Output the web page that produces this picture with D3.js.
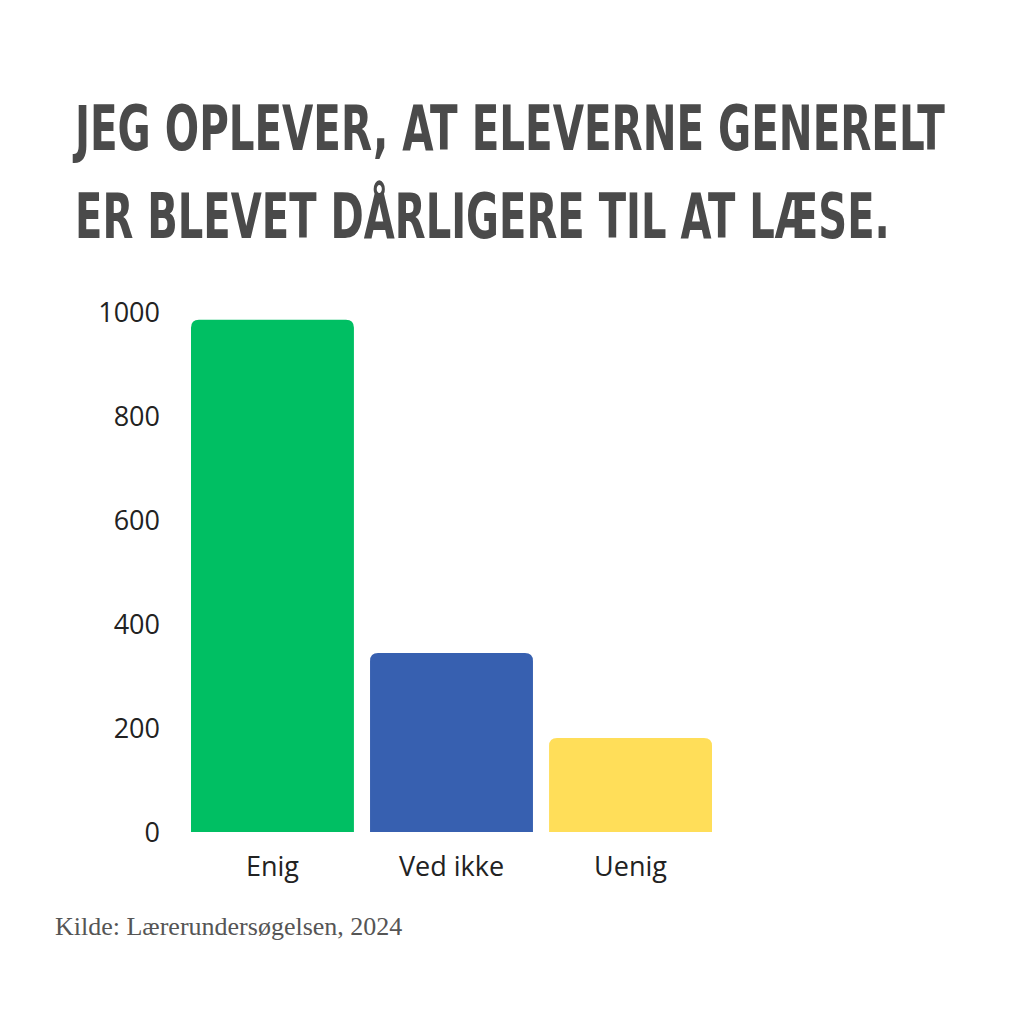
<!DOCTYPE html>
<html><head><meta charset="utf-8">
<script src="https://cdn.jsdelivr.net/npm/d3@7"></script>
<style>body{margin:0;background:#fff}</style></head>
<body><svg id="c" width="1024" height="1024"></svg>
<script>
const categories = ["Enig", "Ved ikke", "Uenig"];
const values = [985, 344, 181];
const colors = ["#00bf63", "#3760b0", "#ffde59"];
const ticks = [0, 200, 400, 600, 800, 1000];
const titleLines = ["JEG OPLEVER, AT ELEVERNE GENERELT", "ER BLEVET DÅRLIGERE TIL AT LÆSE."];
const source = "Kilde: Lærerundersøgelsen, 2024";

const svg = d3.select("#c");
svg.append("rect").attr("width",1024).attr("height",1024).attr("fill","#fff");
const tl = [[75,150,870],[75,238,815]];
titleLines.forEach((t,i)=>{
  const el = svg.append("text").attr("x",tl[i][0]).attr("y",tl[i][1])
    .attr("font-family","Liberation Sans Narrow, DejaVu Sans Condensed, sans-serif").attr("font-weight","bold")
    .attr("font-style","normal").attr("font-size",62).attr("fill","#4a4a4a").text(t);
  const w = el.node().getComputedTextLength();
  el.attr("transform",`translate(${tl[i][0]},0) scale(${tl[i][2]/w},1) translate(${-tl[i][0]},0)`);
});
const y = d3.scaleLinear().domain([0,1000]).range([832,312]);
const x = d3.scaleBand().domain(categories).range([191,712]).paddingInner(0.09).paddingOuter(0);
const g = svg.append("g");
const r = 8;
categories.forEach((c,i)=>{
  const x0=x(c), w=x.bandwidth(), y0=y(values[i]), yb=y(0);
  g.append("path").attr("fill",colors[i])
   .attr("d",`M${x0},${yb}V${y0+r}Q${x0},${y0} ${x0+r},${y0}H${x0+w-r}Q${x0+w},${y0} ${x0+w},${y0+r}V${yb}Z`);
  g.append("text").attr("x",x0+w/2).attr("y",876).attr("text-anchor","middle")
   .attr("font-family","Open Sans, sans-serif").attr("font-size",27).attr("fill","#222").text(c);
});
ticks.forEach(t=>{
  g.append("text").attr("x",160).attr("y",y(t)+10).attr("text-anchor","end")
   .attr("font-family","Open Sans, sans-serif").attr("font-size",27).attr("fill","#222").text(t);
});
svg.append("text").attr("x",55).attr("y",935).attr("font-family","Liberation Serif, serif")
  .attr("font-size",26).attr("fill","#555").text(source);
</script></body></html>
